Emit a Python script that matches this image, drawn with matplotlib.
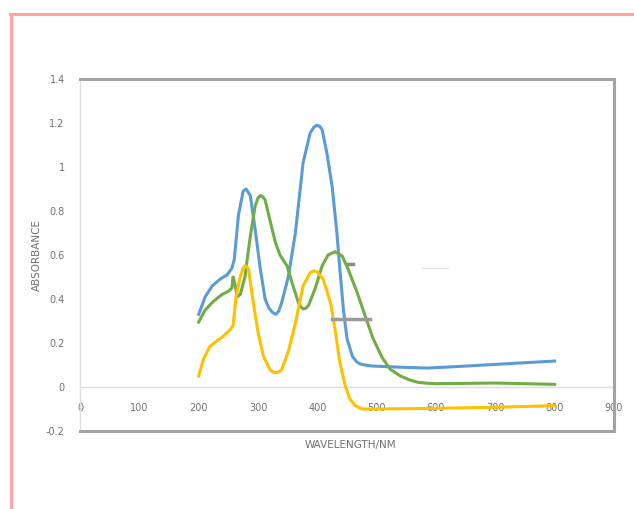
import matplotlib
matplotlib.use("Agg")
import matplotlib.pyplot as plt
from matplotlib.lines import Line2D

# ------------------------
# Spectra (absorbance vs wavelength, nm)
# ------------------------
blue_nm = [200, 211, 223, 236, 248, 256, 260, 267, 275, 280, 287, 295, 304, 312,
           318, 324, 330, 335, 340, 351, 363, 376, 388, 394, 399, 404, 408, 416,
           425, 433, 438, 444, 450, 459, 466, 472, 482, 494, 540, 585, 650, 708, 800]
blue_abs = [0.33, 0.41, 0.46, 0.49, 0.51, 0.54, 0.58, 0.78, 0.89, 0.90, 0.87, 0.72,
            0.535, 0.40, 0.36, 0.34, 0.33, 0.345, 0.385, 0.50, 0.70, 1.02, 1.155,
            1.18, 1.19, 1.185, 1.17, 1.065, 0.91, 0.70, 0.535, 0.35, 0.22, 0.14,
            0.115, 0.105, 0.099, 0.095, 0.09, 0.086, 0.095, 0.104, 0.118]

green_nm = [200, 211, 225, 239, 250, 256, 258, 261, 265, 270, 278, 287, 295, 300,
            304, 308, 312, 320, 329, 337, 349, 359, 368, 372, 376, 380, 385, 396,
            408, 418, 430, 442, 452, 467, 481, 494, 509, 523, 540, 555, 568, 585,
            600, 700, 800]
green_abs = [0.295, 0.35, 0.39, 0.42, 0.435, 0.45, 0.50, 0.47, 0.41, 0.42, 0.50,
             0.685, 0.82, 0.86, 0.87, 0.865, 0.85, 0.76, 0.66, 0.60, 0.55, 0.46,
             0.385, 0.365, 0.355, 0.357, 0.37, 0.445, 0.55, 0.60, 0.615, 0.595,
             0.535, 0.43, 0.32, 0.22, 0.135, 0.08, 0.05, 0.033, 0.022, 0.017,
             0.015, 0.018, 0.012]

yellow_nm = [200, 208, 219, 231, 241, 253, 258, 263, 270, 275, 278, 281, 284, 292,
             300, 309, 320, 325, 330, 335, 340, 351, 363, 376, 388, 394, 399, 410,
             422, 430, 438, 447, 455, 464, 475, 500, 600, 700, 800]
yellow_abs = [0.05, 0.125, 0.185, 0.21, 0.23, 0.26, 0.28, 0.41, 0.50, 0.54, 0.55,
              0.548, 0.535, 0.385, 0.25, 0.14, 0.08, 0.068, 0.065, 0.068, 0.08,
              0.16, 0.29, 0.46, 0.52, 0.528, 0.525, 0.49, 0.385, 0.26, 0.11, 0.005,
              -0.055, -0.085, -0.10, -0.10, -0.097, -0.092, -0.085]

x_ticks = [0, 100, 200, 300, 400, 500, 600, 700, 800, 900]
y_ticks = [1.4, 1.2, 1, 0.8, 0.6, 0.4, 0.2, 0, -0.2]

# stray error-bar bits left on the chart
bar_nm = [425, 489]
bar_abs = [0.31, 0.31]
cap_nm = [452, 460]
cap_abs = [0.56, 0.56]
faint_nm = [577, 620]
faint_abs = [0.54, 0.54]

BLUE = "#5b9bd5"
GREEN = "#70ad47"
YELLOW = "#ffc000"
TEXT = "#707070"

W, H = 634, 509
fig = plt.figure(figsize=(W / 100, H / 100), dpi=100)
fig.patch.set_facecolor("white")

# pink border round the panel
pink = "#ffa3a3"
fig.add_artist(Line2D([10 / W, 1], [1 - 14 / H, 1 - 14 / H], color=pink, lw=2.2))
fig.add_artist(Line2D([11 / W, 11 / W], [0, 1 - 14 / H], color=pink, lw=2.2))

left, right, top, bottom = 80, 614, 79, 431
ax = fig.add_axes([left / W, 1 - bottom / H, (right - left) / W, (bottom - top) / H])

ax.plot(blue_nm, blue_abs, color=BLUE, lw=2.2, solid_joinstyle="round")
ax.plot(green_nm, green_abs, color=GREEN, lw=2.2, solid_joinstyle="round")
ax.plot(yellow_nm, yellow_abs, color=YELLOW, lw=2.2, solid_joinstyle="round")

ax.plot(bar_nm, bar_abs, color="#9a9a9a", lw=2.5)
ax.plot(cap_nm, cap_abs, color="#8a8a8a", lw=2.5)
ax.plot(faint_nm, faint_abs, color="#e6e6e6", lw=1)

ax.set_xlim(0, 900)
ax.set_ylim(-0.2, 1.4)

# zero line acts as the category axis
ax.axhline(0, color="#dcdcdc", lw=1, zorder=0)

for s in ["top", "right", "bottom"]:
    ax.spines[s].set_color("#a3a3a3")
    ax.spines[s].set_linewidth(2.2)
ax.spines["left"].set_color("#dedede")
ax.spines["left"].set_linewidth(1)

ax.set_yticks(y_ticks)
ax.set_yticklabels([f"{v:g}" for v in y_ticks])
ax.tick_params(axis="y", length=0, pad=11, labelsize=7, labelcolor=TEXT)

# x labels sit just under the zero line, inside the plot frame
ax.set_xticks([])
for xv in x_ticks:
    ax.text(xv, -0.097, str(xv), ha="center", va="center",
            fontsize=7, color=TEXT, zorder=1)

fig.text(37 / W, 1 - 255 / H, "ABSORBANCE", rotation=90, ha="center",
         va="center", fontsize=7.5, color=TEXT)
fig.text(350 / W, 1 - 445 / H, "WAVELENGTH/NM", ha="center", va="center",
         fontsize=7.5, color=TEXT)

fig.savefig("out.png", dpi=100)
